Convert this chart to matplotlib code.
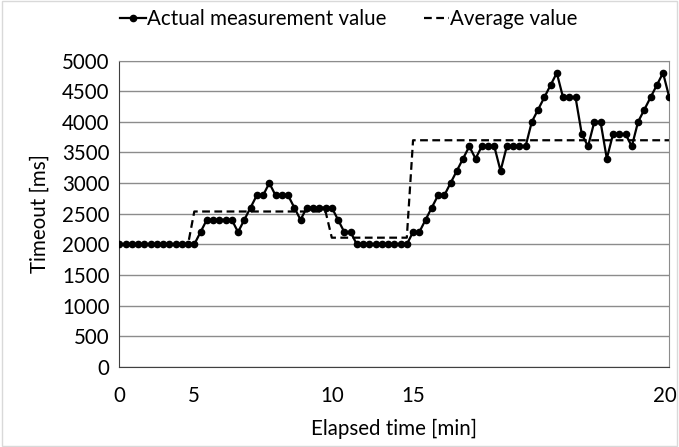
import matplotlib
matplotlib.use("Agg")
import matplotlib.pyplot as plt
import matplotlib.transforms as mtransforms
from matplotlib.patches import Rectangle

plt.rcParams['font.family'] = ['Lato', 'DejaVu Sans']

# timeout measured at each sample (ms)
actual = [2000, 2000, 2000, 2000, 2000, 2000, 2000, 2000, 2000, 2000,
          2000, 2000, 2000, 2200, 2400, 2400, 2400, 2400, 2400, 2200,
          2400, 2600, 2800, 2800, 3000, 2800, 2800, 2800, 2600, 2400,
          2600, 2600, 2600, 2600, 2600, 2400, 2200, 2200, 2000, 2000,
          2000, 2000, 2000, 2000, 2000, 2000, 2000, 2200, 2200, 2400,
          2600, 2800, 2800, 3000, 3200, 3400, 3600, 3400, 3600, 3600,
          3600, 3200, 3600, 3600, 3600, 3600, 4000, 4200, 4400, 4600,
          4800, 4400, 4400, 4400, 3800, 3600, 4000, 4000, 3400, 3800,
          3800, 3800, 3600, 4000, 4200, 4400, 4600, 4800, 4400]

# average over each 5 minute block
average = [2000] * 12 + [2536] * 22 + [2108] * 13 + [3700] * 42

tick_pos = [0, 12, 34, 47, 88]
tick_labels = ['0', '5', '10', '15', '20']

x = list(range(len(actual)))
fs = 14.8

fig = plt.figure(figsize=(6.79, 4.47), dpi=100)
ax = fig.add_axes([119.3 / 679, 1 - 366.7 / 447, 550 / 679, 306 / 447])

ax.plot(x, actual, color='black', lw=1.6, marker='o', markersize=4.5,
        label='Actual measurement value', zorder=3)
ax.plot(x, average, color='black', lw=1.6, ls=(0, (3.5, 2)),
        label='Average value', zorder=2)

ax.set_xlim(0, len(actual) - 1)
ax.set_ylim(0, 5000)
ax.set_yticks(range(0, 5001, 500))
ax.set_xticks(tick_pos)
ax.set_xticklabels(tick_labels)
ax.tick_params(length=0, labelsize=fs, colors='black', pad=7)
ax.tick_params(axis='x', pad=14)
ax.grid(axis='y', color='#8c8c8c', lw=1)
ax.set_axisbelow(True)
for side in ['top', 'right']:
    ax.spines[side].set_color('#8c8c8c')
for side in ['left', 'bottom']:
    ax.spines[side].set_color('#404040')

# keep the last label inside the figure
last = ax.get_xticklabels()[-1]
last.set_transform(last.get_transform() +
                   mtransforms.ScaledTranslation(-4 / 100, 0, fig.dpi_scale_trans))

ax.set_xlabel('Elapsed time [min]', fontsize=fs, labelpad=9)
ax.set_ylabel('Timeout [ms]', fontsize=fs, labelpad=9)

fig.legend(loc='center', bbox_to_anchor=(0.514, 0.958), ncol=2, frameon=False,
           fontsize=fs, handlelength=1.25, handletextpad=0.05, columnspacing=1.8)

# light frame around the whole chart
fig.patches.append(Rectangle((0.003, 0.003), 0.994, 0.994, transform=fig.transFigure,
                             fill=False, edgecolor='#d9d9d9', lw=1))

fig.savefig('out.png', dpi=100)
